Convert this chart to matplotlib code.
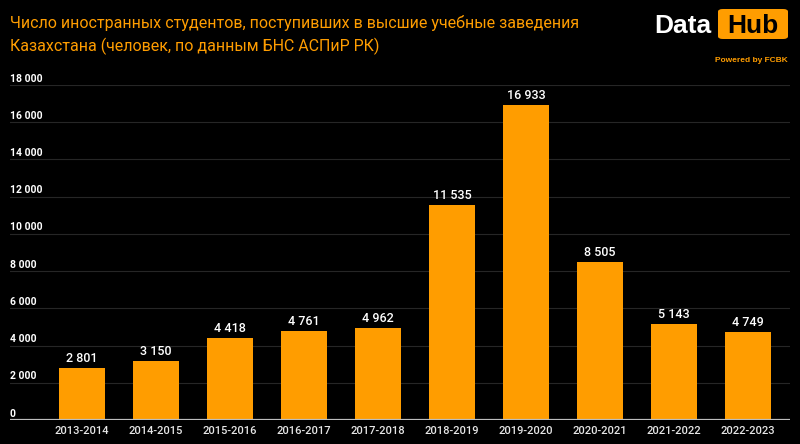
import matplotlib
matplotlib.use('Agg')
import matplotlib.pyplot as plt
from matplotlib.patches import FancyBboxPatch
import matplotlib.transforms as mtransforms

plt.rcParams['font.family'] = ['Roboto', 'DejaVu Sans']

years = ['2013-2014', '2014-2015', '2015-2016', '2016-2017', '2017-2018',
         '2018-2019', '2019-2020', '2020-2021', '2021-2022', '2022-2023']
students = [2801, 3150, 4418, 4761, 4962, 11535, 16933, 8505, 5143, 4749]
yticks = [0, 2000, 4000, 6000, 8000, 10000, 12000, 14000, 16000, 18000]

ORANGE = '#FF9D00'
BG = '#000000'


def fmt(v):
    return f'{v:,}'.replace(',', ' ')


W, H = 800, 444
fig = plt.figure(figsize=(8, 4.44), dpi=100, facecolor=BG)
# axes: x 10..790 px, y 85..420 px (18000 down to 0)
ax = fig.add_axes([10 / W, 1 - 420 / H, 780 / W, 335 / H], facecolor=BG)

x = list(range(len(years)))
ax.bar(x, students, width=0.62, color=ORANGE, zorder=3)
ax.set_xlim(-0.973, 9.57)
ax.set_ylim(0, 18000)

for xi, v in zip(x, students):
    ax.text(xi, v + 160, fmt(v), ha='center', va='bottom', color='white',
            fontsize=9, fontweight='medium', zorder=4)

# gridlines and y labels sitting above lines
trans = mtransforms.blended_transform_factory(ax.transAxes, ax.transData)
for t in yticks[1:]:
    ax.axhline(t, color='#262626', linewidth=0.8, zorder=1)
for t in yticks:
    ax.text(0, t + 400, fmt(t), transform=trans, ha='left', va='center_baseline',
            color='white', fontsize=7.5, fontweight='bold')

ax.axhline(0, color='#bdbdbd', linewidth=1.6, zorder=5)
ax.set_yticks([])
ax.set_xticks(x)
ax.set_xticklabels(years, color='#e6e6e6', fontsize=8, fontweight='medium')
ax.tick_params(axis='x', length=0, pad=4)
for s in ax.spines.values():
    s.set_visible(False)

# title
fig.text(10 / W, 1 - 23 / H, 'Число иностранных студентов, поступивших в высшие учебные заведения',
         color=ORANGE, fontsize=11.5, ha='left', va='center')
fig.text(10 / W, 1 - 46 / H, 'Казахстана (человек, по данным БНС АСПиР РК)',
         color=ORANGE, fontsize=11.5, ha='left', va='center')

# logo
box = FancyBboxPatch((718 / W, 1 - 39 / H), 70 / W, 30 / H,
                     boxstyle='round,pad=0,rounding_size=0.006',
                     transform=fig.transFigure, facecolor=ORANGE, edgecolor='none')
fig.patches.append(box)
fig.text(711 / W, 1 - 26 / H, 'Data', color='white', fontsize=19, fontweight='bold',
         family='Liberation Sans', ha='right', va='center')
fig.text(753 / W, 1 - 26 / H, 'Hub', color='black', fontsize=19, fontweight='bold',
         family='Liberation Sans', ha='center', va='center')
fig.text(788 / W, 1 - 60 / H, 'Powered by FCBK', color=ORANGE, fontsize=6, fontweight='bold',
         family='Liberation Sans', ha='right', va='center')

fig.savefig('out.png', dpi=100, facecolor=BG)
